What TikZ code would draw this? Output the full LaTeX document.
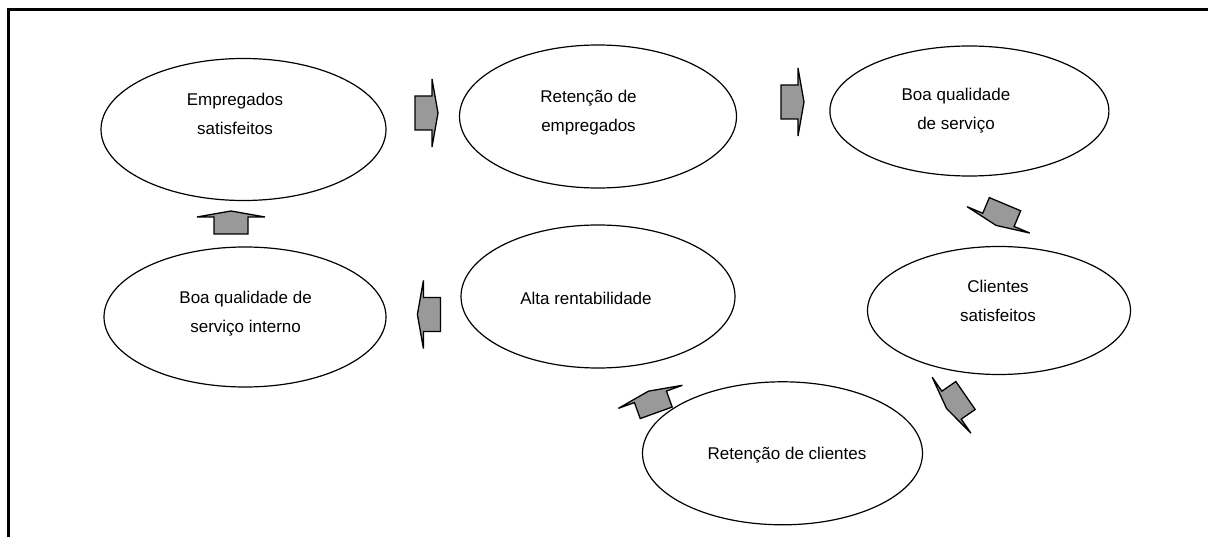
\documentclass[tikz,border=0pt]{standalone}
\usepackage{fontspec}
\setmainfont{Liberation Sans}
\usetikzlibrary{shapes.geometric}
\begin{document}
\begin{tikzpicture}[x=1pt,y=1pt,
  bubble/.style={ellipse,draw=black,line width=1.2pt,inner sep=0pt,fill=white},
  caption/.style={align=center,inner sep=0pt,font=\fontsize{17}{29}\selectfont},
  arrowfill/.style={draw=black,fill=black!40,line width=1.3pt,line join=miter},
  fatarrow/.pic={
    \path[arrowfill] (0,-17) -- (17,-17) -- (17,-34) -- (23,0) -- (17,34)
      -- (17,17) -- (0,17) -- cycle;
  }]
\useasboundingbox (0,0) rectangle (1208,536);

% frame
\draw[line width=3pt,line cap=rect] (8,0) -- (8,526) -- (1208,526);

% the seven stages of the cycle
\node[bubble,minimum width=285pt,minimum height=142pt] (emp)  at (243.5,406.5) {};
\node[bubble,minimum width=277pt,minimum height=143pt] (remp) at (598,419.5) {};
\node[bubble,minimum width=279pt,minimum height=130pt] (qual) at (969.4,425) {};
\node[bubble,minimum width=263pt,minimum height=128pt] (cli)  at (999,225.5) {};
\node[bubble,minimum width=280pt,minimum height=143pt] (rcli) at (782.5,82.7) {};
\node[bubble,minimum width=274pt,minimum height=143pt] (alta) at (598,239.5) {};
\node[bubble,minimum width=282pt,minimum height=140pt] (int)  at (245,219) {};

\node[caption] (t-emp)  at (235,421.7)   {Empregados\\satisfeitos};
\node[caption] (t-remp) at (588.5,423)   {Retenção de\\empregados};
\node[caption] (t-qual) at (956,425)     {Boa qualidade\\de serviço};
\node[caption] (t-cli)  at (998,234.7)   {Clientes\\satisfeitos};
\node[caption] (t-rcli) at (787,81)      {Retenção de clientes};
\node[caption] (t-alta) at (586,238)     {Alta rentabilidade};
\node[caption] (t-int)  at (245.6,222.7) {Boa qualidade de\\serviço interno};

% block arrows between the stages
\path (415,423)     pic[rotate=0]     {fatarrow};
\path (781,434)     pic[rotate=0]     {fatarrow};
\path (1005,331.8)  pic[rotate=247.2] {fatarrow};
\path (965.5,140.5) pic[rotate=214.7] {fatarrow};
\path (656.2,123.2) pic[rotate=109.8] {fatarrow};
\path (440.4,221.5) pic[rotate=180]   {fatarrow};
\path (231,302)     pic[rotate=90]    {fatarrow};
\end{tikzpicture}
\end{document}
